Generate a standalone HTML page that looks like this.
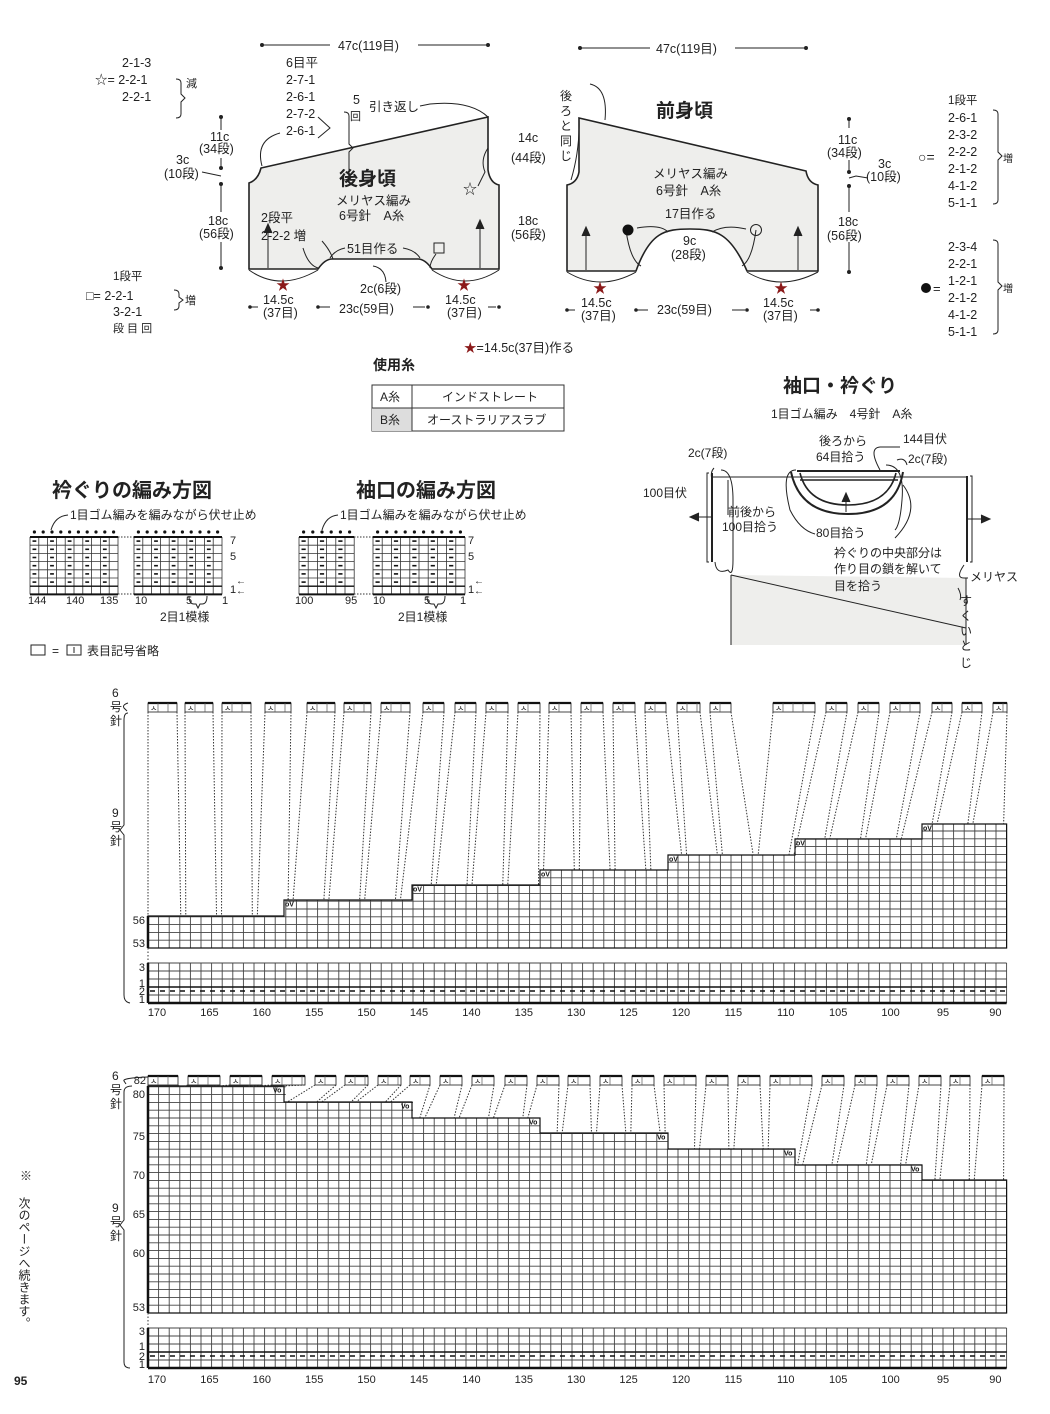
<!DOCTYPE html>
<html><head><meta charset="utf-8">
<style>
html,body{margin:0;padding:0;background:#fff;}
svg{display:block;font-family:"Liberation Sans","Noto Sans CJK JP",sans-serif;}
</style></head>
<body>
<svg id="s" width="1050" height="1414" viewBox="0 0 1050 1414" xmlns="http://www.w3.org/2000/svg" font-size="13" fill="#222">
<g id="top" stroke="#222" fill="none" stroke-width="1">
<path d="M249,269 L249,183 Q258,180 261,168 L488,117 L488,170 Q490,183 499,185 L499,269 L432,269 Q425,259 418,259 L332,259 Q325,259 318,269 Z" fill="#eeeeec" stroke-width="1.6"/>
<path d="M567,271 L567,185 Q577,183 579,172 L579,118 L806,171 Q808,183 818,185 L818,271 L747,271 C730,232 715,229 690,229 C665,229 650,232 636,271 Z" fill="#eeeeec" stroke-width="1.6"/>
<line x1="262" y1="45" x2="330" y2="45"/><line x1="418" y1="45" x2="488" y2="45"/>
<circle cx="262" cy="45" r="1.5" fill="#222"/><circle cx="488" cy="45" r="1.5" fill="#222"/>
<line x1="580" y1="48" x2="650" y2="48"/><line x1="735" y1="48" x2="806" y2="48"/>
<circle cx="580" cy="48" r="1.5" fill="#222"/><circle cx="806" cy="48" r="1.5" fill="#222"/>
<line x1="221" y1="117" x2="221" y2="130"/><line x1="221" y1="158" x2="221" y2="168"/><line x1="221" y1="184" x2="221" y2="212"/><line x1="221" y1="242" x2="221" y2="268"/>
<circle cx="221" cy="117" r="1.5" fill="#222"/><circle cx="221" cy="168" r="1.5" fill="#222"/><circle cx="221" cy="184" r="1.5" fill="#222"/><circle cx="221" cy="268" r="1.5" fill="#222"/>
<line x1="849" y1="119" x2="849" y2="128"/><line x1="849" y1="160" x2="849" y2="172"/><line x1="849" y1="186" x2="849" y2="212"/><line x1="849" y1="242" x2="849" y2="272"/>
<circle cx="849" cy="119" r="1.5" fill="#222"/><circle cx="849" cy="172" r="1.5" fill="#222"/><circle cx="849" cy="186" r="1.5" fill="#222"/><circle cx="849" cy="272" r="1.5" fill="#222"/>
<path d="M849,178 L856,176 L868,178"/>
<path d="M202,172 L221,176"/>
<line x1="250" y1="307" x2="258" y2="307"/><line x1="318" y1="307" x2="330" y2="307"/><line x1="413" y1="307" x2="425" y2="307"/><line x1="488" y1="307" x2="496" y2="307"/>
<circle cx="250" cy="307" r="1.3" fill="#222"/><circle cx="318" cy="307" r="1.3" fill="#222"/><circle cx="428" cy="307" r="1.3" fill="#222"/><circle cx="499" cy="307" r="1.3" fill="#222"/>
<line x1="567" y1="310" x2="575" y2="310"/><line x1="636" y1="310" x2="648" y2="310"/><line x1="732" y1="310" x2="745" y2="310"/><line x1="810" y1="310" x2="818" y2="310"/>
<circle cx="567" cy="310" r="1.3" fill="#222"/><circle cx="636" cy="310" r="1.3" fill="#222"/><circle cx="747" cy="310" r="1.3" fill="#222"/><circle cx="818" cy="310" r="1.3" fill="#222"/>
<path d="M249,270 Q280,292 318,270"/><path d="M432,270 Q465,292 499,270"/>
<path d="M567,272 Q600,292 636,272"/><path d="M747,272 Q780,292 818,272"/>
<line x1="268" y1="268" x2="268" y2="225"/><path d="M264,233 L268,224 L272,233" fill="#222"/>
<line x1="480" y1="268" x2="480" y2="220"/><path d="M476,229 L480,220 L484,229" fill="#222"/>
<line x1="586" y1="270" x2="586" y2="228"/><path d="M582,236 L586,227 L590,236" fill="#222"/>
<line x1="798" y1="270" x2="798" y2="228"/><path d="M794,236 L798,227 L802,236" fill="#222"/>
<path d="M262,166 Q255,140 280,133"/><path d="M420,106 L430,104 Q470,100 488,117"/>
<path d="M488,148 Q480,160 485,172 L478,186"/>
<path d="M303,248 Q308,265 318,268"/><path d="M322,241 Q330,250 333,259"/>
<path d="M345,248 Q335,250 330,258"/><path d="M403,248 Q415,250 420,258"/>
<path d="M373,266 Q385,268 386,282"/>
<path d="M436,254 Q430,262 430,268"/>
<path d="M571,180 Q580,150 579,118"/><path d="M590,84 Q608,88 605,120"/>
<path d="M626,230 Q630,260 641,266"/><path d="M637,228 Q660,224 668,232"/><path d="M756,230 Q752,260 742,266"/><path d="M746,229 Q725,224 712,232"/>
<path d="M176,79 Q181,79 181,83 L181,94 L185,98 L181,102 L181,114 Q181,118 176,118"/>
<path d="M344,112 Q349,112 349,116 L349,144 L353,148 L349,152 L349,176 Q349,180 344,180"/>
<path d="M318,117 L330,128 L318,138"/>
<path d="M174,290 Q179,290 179,294 L179,297 L183,300 L179,303 L179,306 Q179,310 174,310"/>
<path d="M993,110 Q998,110 998,114 L998,152 L1002,156 L998,160 L998,200 Q998,204 993,204"/>
<path d="M993,240 Q998,240 998,244 L998,282 L1002,286 L998,290 L998,330 Q998,334 993,334"/>
</g>
<g font-size="12.5">
<text x="338" y="50">47c(119目)</text>
<text x="656" y="53">47c(119目)</text>
<text x="122" y="67">2-1-3</text><text x="95" y="84">☆= 2-2-1</text><text x="122" y="101">2-2-1</text>
<text x="186" y="87" font-size="11">減</text>
<text x="286" y="67">6目平</text><text x="286" y="84">2-7-1</text><text x="286" y="101">2-6-1</text><text x="286" y="118">2-7-2</text><text x="286" y="135">2-6-1</text>
<text x="353" y="104">5</text><text x="350" y="120" font-size="11">回</text>
<text x="369" y="111">引き返し</text>
<text x="210" y="141">11c</text><text x="199" y="153">(34段)</text>
<text x="176" y="164">3c</text><text x="164" y="178">(10段)</text>
<text x="208" y="225">18c</text><text x="199" y="238">(56段)</text>
<text x="339" y="185" font-size="19" font-weight="bold">後身頃</text>
<text x="336" y="205">メリヤス編み</text><text x="339" y="220">6号針　A糸</text>
<text x="261" y="222">2段平</text><text x="261" y="240">2-2-2  増</text>
<text x="347" y="253">51目作る</text>
<rect x="434" y="243" width="10" height="10" fill="none" stroke="#222"/>
<text x="463" y="194" font-size="14">☆</text>
<text x="360" y="293">2c(6段)</text>
<text x="263" y="304">14.5c</text><text x="263" y="317">(37目)</text>
<text x="339" y="313">23c(59目)</text>
<text x="445" y="304">14.5c</text><text x="447" y="317">(37目)</text>
<text x="113" y="280" font-size="11.5">1段平</text>
<text x="86" y="300">□= 2-2-1</text><text x="113" y="316">3-2-1</text><text x="113" y="332" font-size="11">段 目 回</text>
<text x="185" y="304" font-size="11">増</text>
<text x="276" y="290" fill="#8b1a1a" font-size="14">★</text><text x="457" y="290" fill="#8b1a1a" font-size="14">★</text>
<text x="593" y="293" fill="#8b1a1a" font-size="14">★</text><text x="774" y="293" fill="#8b1a1a" font-size="14">★</text>
<text x="464" y="352"><tspan fill="#8b1a1a">★</tspan>=14.5c(37目)作る</text>
<text x="560" y="100" font-size="12">後</text><text x="560" y="115" font-size="12">ろ</text><text x="560" y="130" font-size="12">と</text><text x="560" y="145" font-size="12">同</text><text x="560" y="160" font-size="12">じ</text>
<text x="518" y="142">14c</text><text x="511" y="162">(44段)</text>
<text x="518" y="225">18c</text><text x="511" y="239">(56段)</text>
<text x="656" y="117" font-size="19" font-weight="bold">前身頃</text>
<text x="653" y="178">メリヤス編み</text><text x="656" y="195">6号針　A糸</text>
<text x="665" y="218">17目作る</text>
<text x="683" y="245">9c</text><text x="671" y="259">(28段)</text>
<circle cx="628" cy="230" r="5.5" fill="#111"/>
<circle cx="756" cy="230" r="5.5" fill="none" stroke="#222"/>
<text x="581" y="307">14.5c</text><text x="581" y="320">(37目)</text>
<text x="657" y="314">23c(59目)</text>
<text x="763" y="307">14.5c</text><text x="763" y="320">(37目)</text>
<text x="838" y="144">11c</text><text x="827" y="157">(34段)</text>
<text x="878" y="168">3c</text><text x="866" y="181">(10段)</text>
<text x="838" y="226">18c</text><text x="827" y="240">(56段)</text>
<text x="948" y="104" font-size="11.5">1段平</text>
<text x="948" y="122">2-6-1</text><text x="948" y="139">2-3-2</text><text x="948" y="156">2-2-2</text><text x="948" y="173">2-1-2</text><text x="948" y="190">4-1-2</text><text x="948" y="207">5-1-1</text>
<text x="918" y="162" font-size="14">○=</text>
<text x="1003" y="162" font-size="10">増</text>
<text x="948" y="251">2-3-4</text><text x="948" y="268">2-2-1</text><text x="948" y="285">1-2-1</text><text x="948" y="302">2-1-2</text><text x="948" y="319">4-1-2</text><text x="948" y="336">5-1-1</text>
<circle cx="926" cy="288" r="5" fill="#111"/><text x="933" y="293" font-size="13">=</text>
<text x="1003" y="292" font-size="10">増</text>
</g>
<g font-size="12">
<text x="373" y="370" font-weight="bold" font-size="14">使用糸</text>
<rect x="372" y="385" width="192" height="46" fill="none" stroke="#333"/>
<rect x="372" y="408" width="40" height="23" fill="#ddd"/>
<line x1="372" y1="408" x2="564" y2="408" stroke="#333"/><line x1="412" y1="385" x2="412" y2="431" stroke="#333"/>
<text x="380" y="401">A糸</text><text x="442" y="401">インドストレート</text>
<text x="380" y="424">B糸</text><text x="427" y="424">オーストラリアスラブ</text>
</g>
<text x="52" y="497" font-size="20" font-weight="bold">衿ぐりの編み方図</text>
<text x="356" y="497" font-size="20" font-weight="bold">袖口の編み方図</text>
<text x="70" y="519" font-size="12">1目ゴム編みを編みながら伏せ止め</text>
<text x="340" y="519" font-size="12">1目ゴム編みを編みながら伏せ止め</text>
<path d="M51,530 Q55,516 68,515" fill="none" stroke="#222"/><path d="M322,530 Q326,516 338,515" fill="none" stroke="#222"/>
<g id="small"></g>
<g font-size="11">
<text x="28" y="604">144</text><text x="66" y="604">140</text><text x="100" y="604">135</text>
<text x="135" y="604">10</text><text x="186" y="604">5</text><text x="222" y="604">1</text>
<text x="160" y="621" font-size="12">2目1模様</text>
<text x="230" y="544">7</text><text x="230" y="560">5</text><text x="230" y="593">1</text>
<text x="236" y="584" font-size="10">←</text><text x="236" y="594" font-size="10">←</text>
<text x="295" y="604">100</text><text x="345" y="604">95</text>
<text x="373" y="604">10</text><text x="424" y="604">5</text><text x="460" y="604">1</text>
<text x="398" y="621" font-size="12">2目1模様</text>
<text x="468" y="544">7</text><text x="468" y="560">5</text><text x="468" y="593">1</text>
<text x="474" y="584" font-size="10">←</text><text x="474" y="594" font-size="10">←</text>
</g>
<path d="M189,596 Q189,604 194,604 L196,604 L198,608 L200,604 L202,604 Q207,604 207,596" fill="none" stroke="#222"/>
<path d="M427,596 Q427,604 432,604 L434,604 L436,608 L438,604 L440,604 Q445,604 445,596" fill="none" stroke="#222"/>
<rect x="31" y="645" width="14" height="10" fill="none" stroke="#222"/>
<text x="52" y="655" font-size="12">=</text>
<rect x="67" y="645" width="14" height="10" fill="none" stroke="#222"/><line x1="74" y1="647" x2="74" y2="653" stroke="#222"/>
<text x="87" y="655" font-size="12">表目記号省略</text>
<g stroke="#222" fill="none">
<path d="M731,575 L966,578 L966,645 L731,645 Z" fill="#eeeeec" stroke="none"/>
<line x1="731" y1="575" x2="731" y2="645"/><line x1="966" y1="578" x2="966" y2="645"/>
<line x1="731" y1="575" x2="966" y2="628"/>
<line x1="712" y1="477" x2="966" y2="477"/>
<path d="M709,473 L707,473 L707,562 L709,562"/><line x1="712" y1="473" x2="712" y2="562" stroke-width="2"/>
<path d="M970,476 L972,476 L972,562 L970,562"/><line x1="967" y1="476" x2="967" y2="562" stroke-width="2"/>
<line x1="712" y1="517" x2="692" y2="517"/><path d="M699,513 L690,517 L699,521" fill="#222"/>
<line x1="967" y1="519" x2="988" y2="519"/><path d="M981,515 L990,519 L981,523" fill="#222"/>
<path d="M797,471 L900,471" stroke-width="2"/>
<line x1="800" y1="480" x2="898" y2="480" stroke-width="1.6"/>
<path d="M791,472 Q800,514 848,514 Q896,514 903,472" stroke-width="2"/>
<path d="M800,473 Q808,505 848,505 Q888,505 896,473" stroke-width="1.6"/>
<line x1="846" y1="512" x2="846" y2="496"/><path d="M842,502 L846,493 L850,502" fill="#222"/>
<path d="M796,470 Q780,470 790,510 Q800,530 815,534"/>
<path d="M886,465 Q905,465 902,500 Q900,525 895,530"/>
<path d="M714,468 Q710,472 712,480"/><path d="M721,470 Q733,470 733,500 L733,560 Q733,578 728,570 Q716,575 715,562"/>
<path d="M897,460 Q905,457 907,465"/><path d="M900,447 L880,447 Q868,448 880,470"/>
<path d="M728,480 L728,515"/>
<path d="M964,565 Q955,578 964,578 L968,578"/><path d="M958,588 Q962,595 960,600"/>
<path d="M903,485 Q922,510 895,538"/>
</g>
<g font-size="12">
<text x="783" y="392" font-size="19" font-weight="bold">袖口・衿ぐり</text>
<text x="771" y="418">1目ゴム編み　4号針　A糸</text>
<text x="819" y="445">後ろから</text><text x="816" y="461">64目拾う</text>
<text x="903" y="443">144目伏</text>
<text x="908" y="463">2c(7段)</text>
<text x="688" y="457">2c(7段)</text>
<text x="643" y="497">100目伏</text>
<text x="728" y="516">前後から</text><text x="722" y="531">100目拾う</text>
<text x="816" y="537">80目拾う</text>
<text x="834" y="557">衿ぐりの中央部分は</text><text x="834" y="573">作り目の鎖を解いて</text><text x="834" y="590">目を拾う</text>
<text x="970" y="581">メリヤス</text>
<text x="960" y="605">す</text><text x="960" y="620">く</text><text x="960" y="635">い</text><text x="960" y="650">と</text><text x="960" y="667">じ</text>
</g>
<g id="charts"></g>
<g font-size="12">
<text x="112" y="697">6</text><text x="110" y="711">号</text><text x="110" y="725">針</text>
<text x="112" y="817">9</text><text x="110" y="831">号</text><text x="110" y="845">針</text>
<text x="112" y="1080">6</text><text x="110" y="1094">号</text><text x="110" y="1108">針</text>
<text x="112" y="1212">9</text><text x="110" y="1226">号</text><text x="110" y="1240">針</text>
</g>
<g font-size="11" text-anchor="end">
<text x="145" y="924">56</text><text x="145" y="947">53</text>
<text x="145" y="971">3</text><text x="145" y="987">1</text><text x="145" y="995">2</text><text x="145" y="1003">1</text>
<text x="146" y="1084">82</text><text x="145" y="1098">80</text><text x="145" y="1140">75</text><text x="145" y="1179">70</text><text x="145" y="1218">65</text><text x="145" y="1257">60</text><text x="145" y="1311">53</text>
<text x="145" y="1335">3</text><text x="145" y="1350">1</text><text x="145" y="1360">2</text><text x="145" y="1368">1</text>
</g>
<g fill="none" stroke="#222">
<path d="M128,703 Q122,705 124,708 L127,711"/>
<path d="M128,713 Q124,713 124,720 L124,825 L120,830 L124,835 L124,995 Q124,1002 130,1003"/>
<path d="M148,1077 Q122,1078 124,1081 L126,1084"/>
<path d="M132,1086 Q124,1086 124,1092 L124,1220 L120,1225 L124,1230 L124,1362 Q124,1368 130,1368"/>
</g>
<text x="20" y="1180" font-size="12">※</text>
<text x="14" y="1385" font-size="12" font-weight="bold">95</text>
<text font-size="12" x="24" y="1197" style="writing-mode:vertical-rl">次のページへ続きます。</text>
</svg>
<script>
(function(){
var NS="http://www.w3.org/2000/svg";
function el(p,n,a,t){var e=document.createElementNS(NS,n);for(var k in a)e.setAttribute(k,a[k]);if(t!=null)e.textContent=t;p.appendChild(e);return e;}
var C=document.getElementById('charts');
var x0=148,cw=10.6,N=81,x1=x0+N*cw;
var breaks=[148,284,412,540,668,795,922,2000];
function segTop(x,tops){for(var i=0;i<7;i++){if(x<breaks[i+1]-0.5)return tops[i];}return tops[6];}
function chart(tops,bottom,rh,boxes,boxY,bandTop,bandRh,labY,vmark){
  var d="";
  for(var i=0;i<=N;i++){var x=x0+i*cw;var t;if(i==0)t=segTop(x0+1,tops);else if(i==N)t=segTop(x1-1,tops);else t=Math.max(segTop(x-1,tops),segTop(x+1,tops));d+="M"+x.toFixed(1)+","+t+"V"+bottom;}
  var minTop=Math.min.apply(null,tops);
  for(var y=bottom;y>minTop-1;y-=rh){var xs=null;var seg="";for(var i=0;i<N;i++){var cx=x0+(i+0.5)*cw;if(segTop(cx,tops)<=y+0.5){if(xs===null)xs=x0+i*cw;}else if(xs!==null){seg+="M"+xs.toFixed(1)+","+y.toFixed(1)+"H"+(x0+i*cw).toFixed(1);xs=null;}}
   if(xs!==null)seg+="M"+xs.toFixed(1)+","+y.toFixed(1)+"H"+x1.toFixed(1);d+=seg;}
  el(C,'path',{d:d,fill:'none',stroke:'#444','stroke-width':'0.9'});
  var o="M"+x0+","+bottom+"V"+tops[0];
  for(var i=0;i<7;i++){var xe=Math.min(breaks[i+1],x1);o+="H"+xe;if(i<6)o+="V"+tops[i+1];}
  o+="V"+bottom+"H"+x0;
  el(C,'path',{d:o,fill:'none',stroke:'#111','stroke-width':'1.2'});
  el(C,'line',{x1:x0,y1:tops[0],x2:x0,y2:bottom,stroke:'#111','stroke-width':'2.5'});
  for(var i=1;i<7;i++){el(C,'text',{x:(vmark?breaks[i]-11:breaks[i]+1),y:(vmark?tops[i-1]:tops[i])+6.5,'font-size':'7','font-weight':'bold',fill:'#111'},vmark?'Vo':'oV');}
  var bb=bandTop+5*bandRh;
  var b="";for(var i=0;i<=N;i++){var x=x0+i*cw;b+="M"+x.toFixed(1)+","+bandTop+"V"+bb;}
  for(var r=0;r<=5;r++){b+="M"+x0+","+(bandTop+r*bandRh)+"H"+x1.toFixed(1);}
  el(C,'path',{d:b,fill:'none',stroke:'#444','stroke-width':'0.9'});
  el(C,'line',{x1:x0,y1:bandTop+3*bandRh,x2:x1,y2:bandTop+3*bandRh,stroke:'#111','stroke-width':'1.6'});
  el(C,'line',{x1:x0,y1:bb,x2:x1,y2:bb,stroke:'#111','stroke-width':'2.5'});
  el(C,'line',{x1:x0,y1:bandTop,x2:x0,y2:bb,stroke:'#111','stroke-width':'2.5'});
  el(C,'line',{x1:x0+2,y1:bandTop+3.5*bandRh,x2:x1,y2:bandTop+3.5*bandRh,stroke:'#111','stroke-width':'1.4','stroke-dasharray':'5,5'});
  el(C,'line',{x1:x0,y1:bottom,x2:x0,y2:bandTop,stroke:'#333','stroke-dasharray':'1.5,2'});
  for(var k=0;k<=16;k++){el(C,'text',{x:(157+k*52.4).toFixed(1),y:labY,'font-size':'11','text-anchor':'middle',fill:'#222'},String(170-5*k));}
  var nb=boxes.length;var span=(x1-x0)/nb;
  for(var k=0;k<nb;k++){var a=boxes[k][0],w=boxes[k][1];
    el(C,'rect',{x:a,y:boxY,width:w,height:9,fill:'#fff',stroke:'#333','stroke-width':'0.9'});
    el(C,'line',{x1:a,y1:boxY,x2:a+w,y2:boxY,stroke:'#111','stroke-width':'2.2'});
    for(var q=a+10;q<a+w-2;q+=10)el(C,'line',{x1:q,y1:boxY,x2:q,y2:boxY+9,stroke:'#555','stroke-width':'0.7'});
    el(C,'text',{x:a+2,y:boxY+8,'font-size':'8',fill:'#222'},'ㅅ');
    var tl=x0+k*span+2,tr=x0+(k+1)*span-3;
    if(k==0)tl=x0;
    el(C,'line',{x1:a,y1:boxY+9,x2:tl,y2:segTop(tl+0.5,tops),stroke:'#333','stroke-dasharray':'1.5,1.5'});
    el(C,'line',{x1:a+w,y1:boxY+9,x2:tr,y2:segTop(tr,tops),stroke:'#333','stroke-dasharray':'1.5,1.5'});
  }
}
var b1=[[148,29],[185,28],[222,29],[265,26],[307,28],[344,27],[381,29],[423,21],[455,21],[486,22],[518,22],[549,22],[581,22],[613,22],[645,21],[677,23],[710,21],[773,42],[826,21],[858,21],[890,30],[932,20],[962,20],[993,14]];
chart([916,900,885,870,855,839,824],948,7.8,b1,703,963,8,1016,false);
var b2=[[148,30],[188,32],[230,32],[272,33],[315,21],[345,23],[378,23],[410,20],[440,22],[472,22],[505,22],[537,22],[568,22],[600,22],[632,22],[664,32],[706,22],[738,22],[770,42],[822,22],[855,22],[887,22],[919,22],[950,20],[982,22]];
chart([1086,1102,1118,1133,1149,1165,1180],1313,7.8,b2,1076,1328,8,1383,true);
var S=document.getElementById('small');
function sgrid(x,w,cols){var y0=537,rh=8.2,h=7*rh;var d="";for(var i=0;i<=cols;i++){d+="M"+(x+i*w).toFixed(1)+","+y0+"V"+(y0+h);}for(var r=0;r<=7;r++){d+="M"+x+","+(y0+r*rh).toFixed(1)+"H"+(x+cols*w).toFixed(1);}
 el(S,'path',{d:d,fill:'none',stroke:'#333','stroke-width':'0.8'});
 el(S,'line',{x1:x,y1:y0,x2:x+cols*w,y2:y0,stroke:'#111','stroke-width':'2'});
 el(S,'line',{x1:x,y1:y0+h,x2:x+cols*w,y2:y0+h,stroke:'#111','stroke-width':'2'});
 el(S,'line',{x1:x,y1:y0+h-rh,x2:x+cols*w,y2:y0+h-rh,stroke:'#111','stroke-width':'1.3'});
 for(var i=0;i<cols;i++){el(S,'circle',{cx:x+(i+0.5)*w,cy:y0-5,r:1.6,fill:'#111'});
  if(i%2==0)for(var r=0;r<6;r++)el(S,'line',{x1:x+i*w+2.5,y1:y0+(r+0.5)*rh,x2:x+(i+1)*w-2.5,y2:y0+(r+0.5)*rh,stroke:'#111','stroke-width':'1.6'});}
}
sgrid(30,8.8,10);sgrid(134,8.8,10);sgrid(299,9.2,6);sgrid(373,9.2,10);
[[118,134],[354,373]].forEach(function(p){el(S,'line',{x1:p[0],y1:537,x2:p[1],y2:537,stroke:'#333','stroke-dasharray':'1.5,1.5'});el(S,'line',{x1:p[0],y1:594,x2:p[1],y2:594,stroke:'#333','stroke-dasharray':'1.5,1.5'});});
})();
</script>
</body></html>
